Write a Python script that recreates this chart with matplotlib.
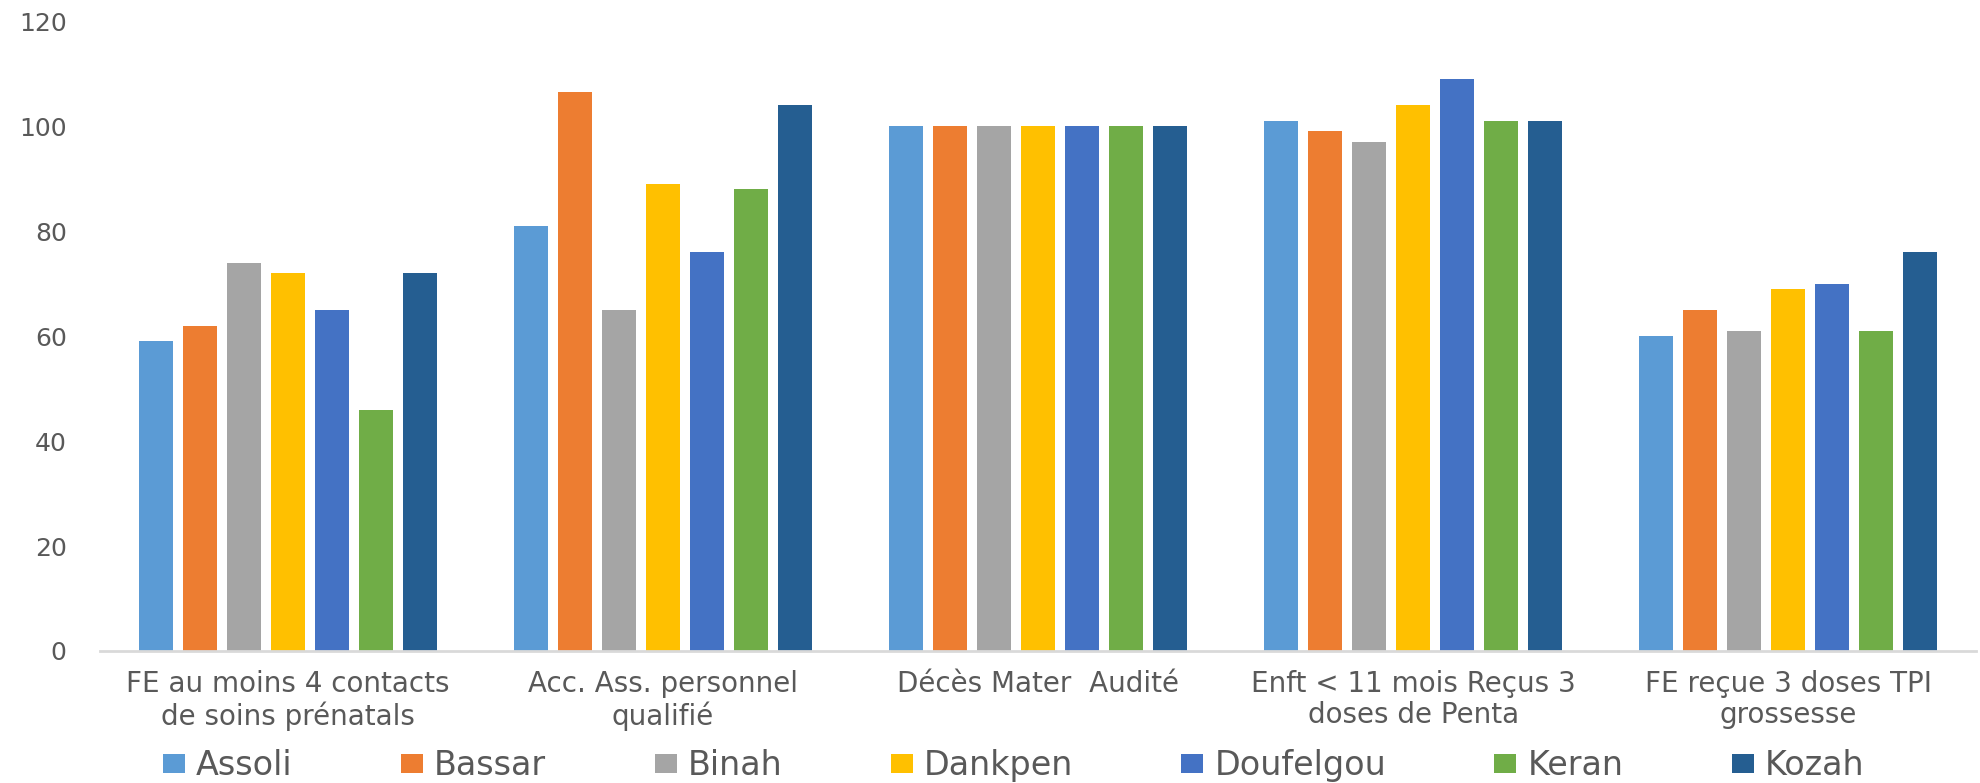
import numpy as np
import matplotlib.pyplot as plt

categories = [
    "FE au moins 4 contacts\nde soins prénatals",
    "Acc. Ass. personnel\nqualifié",
    "Décès Mater  Audité",
    "Enft < 11 mois Reçus 3\ndoses de Penta",
    "FE reçue 3 doses TPI\ngrossesse",
]
districts = ["Assoli", "Bassar", "Binah", "Dankpen", "Doufelgou", "Keran", "Kozah"]
assoli = [59, 81, 100, 101, 60]
bassar = [62, 106.5, 100, 99, 65]
binah = [74, 65, 100, 97, 61]
dankpen = [72, 89, 100, 104, 69]
doufelgou = [65, 76, 100, 109, 70]
keran = [46, 88, 100, 101, 61]
kozah = [72, 104, 100, 101, 76]
series = [assoli, bassar, binah, dankpen, doufelgou, keran, kozah]
colors = ["#5B9BD5", "#ED7D31", "#A5A5A5", "#FFC000", "#4472C4", "#70AD47", "#255E91"]

txt = "#595959"
fig = plt.figure(figsize=(19.8, 7.83), dpi=100)
ax = fig.add_axes([0.0505, 0.1686, 0.9475, 0.8044])

x = np.arange(len(categories))
step = 0.1173
width = 0.0907
for i, (name, vals) in enumerate(zip(districts, series)):
    ax.bar(x + (i - 3) * step, vals, width, color=colors[i], label=name, zorder=2)

ax.set_xlim(-0.5, 4.5)
ax.set_ylim(0, 120)
ax.set_yticks(range(0, 121, 20))
ax.set_xticks(x)
ax.set_xticklabels(categories, fontsize=20, color=txt, linespacing=1.12)
ax.tick_params(axis="y", labelsize=18, colors=txt, length=0, pad=24)
ax.tick_params(axis="x", length=0, pad=14)
for s in ["top", "right", "left"]:
    ax.spines[s].set_visible(False)
ax.spines["bottom"].set_color("#d9d9d9")
ax.spines["bottom"].set_linewidth(2)

fig.legend(loc="center", bbox_to_anchor=(0.512, 0.022), ncol=7, frameon=False,
           fontsize=24, handlelength=0.66, handleheight=0.5, handletextpad=0.33,
           columnspacing=3.25, labelcolor=txt)

fig.savefig("out.png", dpi=100)
